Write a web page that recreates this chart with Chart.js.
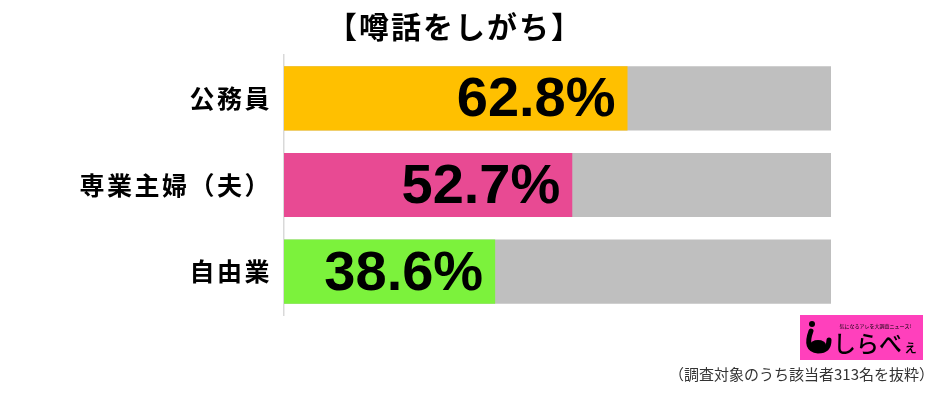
<!DOCTYPE html>
<html>
<head>
<meta charset="utf-8">
<script src="https://cdn.jsdelivr.net/npm/chart.js@4/dist/chart.umd.min.js"></script>
<style>
html,body{margin:0;padding:0;background:#fff;}
#wrap{width:941px;height:394px;position:relative;}
</style>
</head>
<body>
<div id="wrap"><canvas id="c" width="941" height="394"></canvas></div>
<script>
const titleText = '【噂話をしがち】';
const categories = ['公務員', '専業主婦（夫）', '自由業'];
const values = [62.8, 52.7, 38.6];
const fullValues = [100, 100, 100];
const barColors = ['#FFC000', '#E84A93', '#7CF23C'];
const footnote = '（調査対象のうち該当者313名を抜粋）';
const logoTagline = '気になるアレを大調査ニュース!';
const logoName = 'しらべ';
const logoSmall = 'ぇ';

const JP = '"Noto Sans CJK JP", "Noto Sans", sans-serif';

const extras = {
  id: 'extras',
  beforeDraw(chart) {
    chart.ctx.letterSpacing = '2.5px';
  },
  afterDatasetsDraw(chart) {
    const ctx = chart.ctx;
    const meta = chart.getDatasetMeta(1);
    ctx.save();
    ctx.letterSpacing = '0px';
    ctx.fillStyle = '#000';
    ctx.font = 'bold 56px "Liberation Sans", Arial, sans-serif';
    ctx.textAlign = 'right';
    ctx.textBaseline = 'alphabetic';
    meta.data.forEach((bar, i) => {
      ctx.fillText(values[i].toFixed(1) + '%', bar.x - 12, bar.y + 18);
    });
    ctx.restore();
  },
  afterDraw(chart) {
    const ctx = chart.ctx;
    ctx.save();
    // title
    ctx.letterSpacing = '2px';
    ctx.fillStyle = '#000';
    ctx.font = 'bold 30px ' + JP;
    ctx.textAlign = 'center';
    ctx.textBaseline = 'middle';
    ctx.fillText(titleText, 455, 27);
    // footnote
    ctx.letterSpacing = '0px';
    ctx.fillStyle = '#333';
    ctx.font = '15px ' + JP;
    ctx.textAlign = 'right';
    ctx.fillText(footnote, 934, 374);
    // logo
    ctx.fillStyle = '#FF40BC';
    ctx.fillRect(800, 315, 123, 45);
    ctx.fillStyle = '#000';
    ctx.beginPath();
    ctx.arc(812, 324, 3, 0, Math.PI * 2);
    ctx.fill();
    ctx.lineWidth = 5;
    ctx.lineCap = 'round';
    ctx.strokeStyle = '#000';
    ctx.beginPath();
    ctx.moveTo(811, 331);
    ctx.quadraticCurveTo(804, 350, 818, 351);
    ctx.quadraticCurveTo(829, 351, 829, 340);
    ctx.stroke();
    ctx.beginPath();
    ctx.ellipse(818, 345, 8, 5, 0, 0, Math.PI * 2);
    ctx.fill();
    ctx.font = '5px ' + JP;
    ctx.textAlign = 'right';
    ctx.fillText(logoTagline, 911, 326);
    ctx.font = '500 23px ' + JP;
    ctx.textAlign = 'left';
    ctx.fillText(logoName, 833, 343);
    ctx.font = '500 15px ' + JP;
    ctx.fillText(logoSmall, 903, 346);
    ctx.restore();
  }
};

new Chart(document.getElementById('c'), {
  type: 'bar',
  data: {
    labels: categories,
    datasets: [
      {
        data: fullValues,
        backgroundColor: '#BFBFBF',
        order: 2,
        barPercentage: 0.74,
        categoryPercentage: 1
      },
      {
        data: values,
        backgroundColor: barColors,
        order: 1,
        barPercentage: 0.74,
        categoryPercentage: 1
      }
    ]
  },
  options: {
    indexAxis: 'y',
    responsive: false,
    animation: false,
    devicePixelRatio: 1,
    grouped: false,
    layout: { padding: { top: 55, bottom: 79, right: 110, left: 0 } },
    plugins: { legend: { display: false }, tooltip: { enabled: false }, title: { display: false } },
    scales: {
      x: { min: 0, max: 100, display: false },
      y: {
        afterFit(scale) { scale.width = 284; },
        grid: { display: false, drawTicks: false },
        border: { display: true, color: '#D9D9D9', width: 1.5 },
        ticks: {
          color: '#000',
          padding: 12,
          font: { family: '"Noto Sans CJK JP", sans-serif', size: 25, weight: 'bold' }
        }
      }
    }
  },
  plugins: [extras]
});
</script>
</body>
</html>
